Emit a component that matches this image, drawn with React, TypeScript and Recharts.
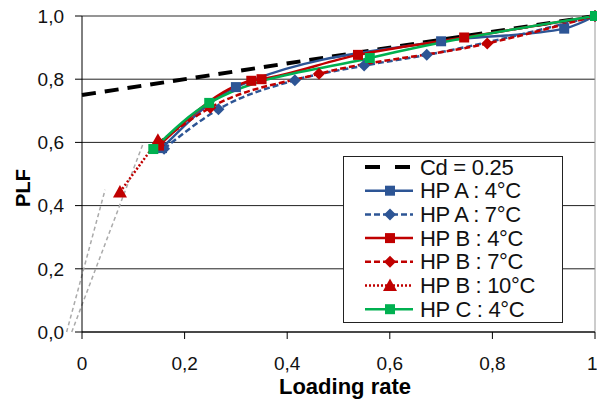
import { CartesianGrid, Line, LineChart, ReferenceLine, XAxis, YAxis } from 'recharts'

const xTicks = [0, 0.2, 0.4, 0.6, 0.8, 1]
const yTicks = [0, 0.2, 0.4, 0.6, 0.8, 1]

// Cd = 0.25 reference line
const cdX = [0, 1]
const cdY = [0.75, 1]

// grey extrapolation lines near the origin
const greyAX = [-0.03, 0.045]
const greyAY = [0, 0.45]
const greyBX = [-0.02, 0.12]
const greyBY = [0, 0.6]

const hpA4X = [0.156, 0.3, 0.7, 0.94, 1]
const hpA4Y = [0.582, 0.775, 0.92, 0.96, 1]

const hpA7X = [0.16, 0.266, 0.415, 0.55, 0.672, 1]
const hpA7Y = [0.58, 0.705, 0.797, 0.843, 0.877, 1]

const hpB4X = [0.15, 0.33, 0.35, 0.538, 0.745, 1]
const hpB4Y = [0.59, 0.795, 0.8, 0.877, 0.932, 1]

const hpB7X = [0.15, 0.25, 0.462, 0.79, 1]
const hpB7Y = [0.6, 0.71, 0.817, 0.913, 1]

const hpB10X = [0.074, 0.148]
const hpB10Y = [0.443, 0.607]

const hpCX = [0.139, 0.248, 0.561, 1]
const hpCY = [0.579, 0.725, 0.867, 1]

const BLUE = '#2d5595'
const RED = '#c00000'
const GREEN = '#00b050'
const FONT = '"Liberation Sans", Arial, sans-serif'

const zip = (xs: number[], ys: number[]) => xs.map((x, i) => ({ x, y: ys[i] }))

const square = (color: string, size: number) => (p: any) => (
  <rect key={`s${p.index}`} x={p.cx - size / 2} y={p.cy - size / 2} width={size} height={size} fill={color} />
)
const diamond = (color: string, r: number) => (p: any) => (
  <path
    key={`d${p.index}`}
    d={`M${p.cx},${p.cy - r}L${p.cx + r},${p.cy}L${p.cx},${p.cy + r}L${p.cx - r},${p.cy}Z`}
    fill={color}
  />
)
const triangle = (color: string, r: number) => (p: any) => (
  <path
    key={`t${p.index}`}
    d={`M${p.cx},${p.cy - r}L${p.cx + r},${p.cy + r * 0.8}L${p.cx - r},${p.cy + r * 0.8}Z`}
    fill={color}
  />
)

const series = [
  { name: 'HP A : 4°C', data: zip(hpA4X, hpA4Y), color: BLUE, dash: undefined, marker: 'square' },
  { name: 'HP A : 7°C', data: zip(hpA7X, hpA7Y), color: BLUE, dash: '6 3', marker: 'diamond' },
  { name: 'HP B : 4°C', data: zip(hpB4X, hpB4Y), color: RED, dash: undefined, marker: 'square' },
  { name: 'HP B : 7°C', data: zip(hpB7X, hpB7Y), color: RED, dash: '6 3', marker: 'diamond' },
  { name: 'HP B : 10°C', data: zip(hpB10X, hpB10Y), color: RED, dash: '2 2', marker: 'triangle' },
  { name: 'HP C : 4°C', data: zip(hpCX, hpCY), color: GREEN, dash: undefined, marker: 'square' },
]

const markerFor = (m: string, color: string) =>
  m === 'square' ? square(color, 10) : m === 'diamond' ? diamond(color, 6) : triangle(color, 7)

const comma = (v: number) => (v === 0 || v === 1 ? String(v) : v.toFixed(1).replace('.', ','))
const commaY = (v: number) => v.toFixed(1).replace('.', ',')

function LegendBox() {
  const rowY = (i: number) => 11 + i * 23.7
  return (
    <svg width={220} height={167} style={{ position: 'absolute', left: 343, top: 156 }}>
      <rect x={0.5} y={0.5} width={219} height={166} fill='#fff' stroke='#222' />
      <line x1={22} x2={70} y1={rowY(0)} y2={rowY(0)} stroke='#000' strokeWidth={4} strokeDasharray='15 15' />
      <text x={77} y={rowY(0)} dominantBaseline='central' fontFamily={FONT} fontSize={22} letterSpacing={-0.3} fill='#111'>
        Cd = 0.25
      </text>
      {series.map((s, i) => {
        const y = rowY(i + 1)
        const mk = markerFor(s.marker, s.color)
        return (
          <g key={s.name}>
            <line x1={22} x2={70} y1={y} y2={y} stroke={s.color} strokeWidth={2.5} strokeDasharray={s.dash} />
            {mk({ cx: 47, cy: y, index: i })}
            <text x={77} y={y} dominantBaseline='central' fontFamily={FONT} fontSize={22} letterSpacing={-0.3} fill='#111'>
              {s.name}
            </text>
          </g>
        )
      })}
    </svg>
  )
}

export default function App() {
  return (
    <div style={{ position: 'absolute', left: 0, top: 0, width: 597, height: 403, background: '#fff' }}>
      <LineChart width={597} height={403} margin={{ top: 16, right: 2, bottom: 0, left: 0 }}>
        <CartesianGrid vertical={false} stroke='#222' />
        <XAxis
          type='number'
          dataKey='x'
          domain={[0, 1]}
          ticks={xTicks}
          tickFormatter={comma}
          height={71}
          stroke='#000'
          tickSize={7}
          tickMargin={18}
          tick={{ fill: '#111', fontSize: 19, fontFamily: FONT }}
          label={() => (
            <text x={345} y={394} textAnchor='middle' fontFamily={FONT} fontSize={22} fontWeight='bold' fill='#000'>
              Loading rate
            </text>
          )}
        />
        <YAxis
          type='number'
          dataKey='y'
          domain={[0, 1]}
          ticks={yTicks}
          tickFormatter={commaY}
          width={82}
          stroke='#000'
          tickSize={7}
          tickMargin={11}
          tick={{ fill: '#111', fontSize: 19, fontFamily: FONT }}
          label={() => (
            <text
              x={30}
              y={188}
              transform='rotate(-90 30 188)'
              textAnchor='middle'
              fontFamily={FONT}
              fontSize={20}
              fontWeight='bold'
              fill='#000'
            >
              PLF
            </text>
          )}
        />
        <ReferenceLine y={1} stroke='#999' />
        <ReferenceLine x={1} stroke='#999' />
        <ReferenceLine
          segment={zip(greyAX, greyAY)}
          ifOverflow='visible'
          stroke='#aaa'
          strokeWidth={1.5}
          strokeDasharray='4 3'
        />
        <ReferenceLine
          segment={zip(greyBX, greyBY)}
          ifOverflow='visible'
          stroke='#aaa'
          strokeWidth={1.5}
          strokeDasharray='4 3'
        />
        <Line
          data={zip(cdX, cdY)}
          dataKey='y'
          stroke='#000'
          strokeWidth={4}
          strokeDasharray='14 9'
          dot={false}
          isAnimationActive={false}
        />
        {series.map((s) => (
          <Line
            key={s.name}
            data={s.data}
            dataKey='y'
            type='monotone'
            stroke={s.color}
            strokeWidth={2.5}
            strokeDasharray={s.dash}
            dot={markerFor(s.marker, s.color)}
            activeDot={false}
            isAnimationActive={false}
          />
        ))}
      </LineChart>
      <LegendBox />
    </div>
  )
}
